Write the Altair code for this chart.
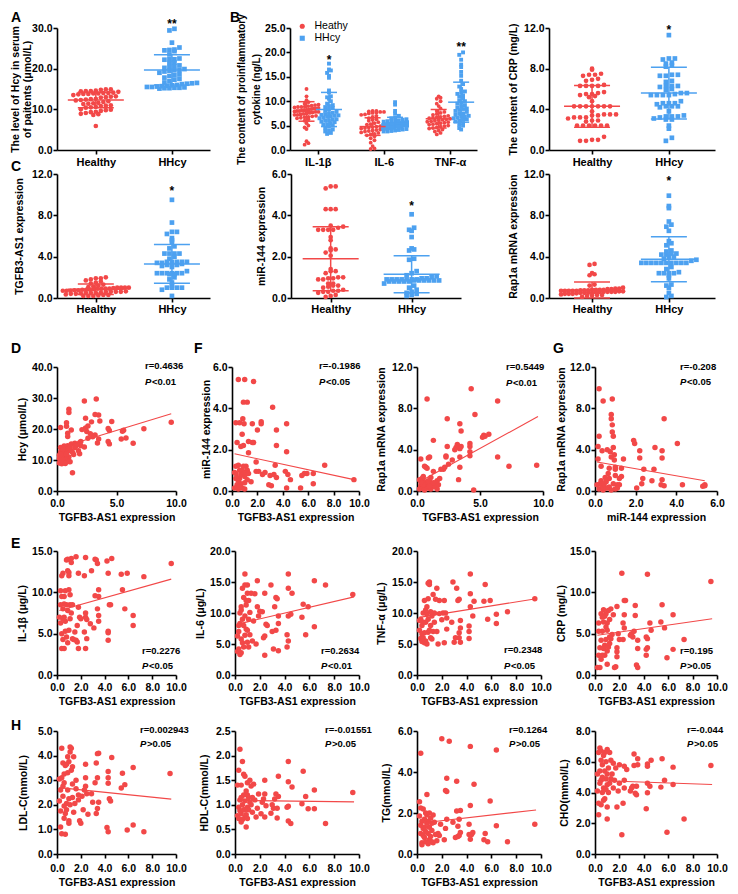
import altair as alt
import numpy as np
import pandas as pd

RED = "#F24848"
BLUE = "#4DA1F0"
FONT = "Liberation Sans"

# ---------------- group dot-plot data ----------------
A_HEALTHY = [14.9, 14.9, 14.8, 14.6, 14.5, 14.5, 14.4, 14.3, 14.1, 14.0, 14.0, 13.9, 13.9, 13.8, 13.8, 13.7,
             13.5, 13.2, 13.1, 13.0, 12.9, 12.6, 12.5, 12.4, 12.3, 12.2, 12.0, 11.8, 11.6, 11.5, 11.4, 11.3,
             11.0, 10.9, 10.8, 10.6, 10.5, 10.4, 10.0, 9.9, 9.8, 9.6, 9.4, 9.3, 9.1, 8.9, 8.8, 8.6, 5.9]
A_HHCY = [29.8, 29.4, 26.4, 25.2, 24.7, 24.6, 24.5, 24.3, 23.5, 22.5, 22.3, 22.2, 22.3, 21.5, 21.4, 20.8,
          20.6, 20.4, 20.2, 19.9, 19.7, 19.6, 19.5, 19.3, 19.0, 18.6, 18.4, 18.2, 17.8, 17.5, 17.3, 16.9,
          16.6, 16.5, 16.4, 16.3, 16.2, 16.0, 15.9, 15.8, 15.7, 15.6, 15.5, 15.5, 15.4, 15.3, 15.3, 15.2, 15.2, 15.1]
A_MEAN = [12.3, 19.7]
A_SD = [1.9, 3.7]

B_CATS = ["IL-1β", "IL-6", "TNF-α"]
B_IL1B_HEALTHY = [12.5, 11.0, 10.2, 9.8, 9.5, 9.3, 9.1, 9.0, 8.9, 8.8, 8.7, 8.6, 8.5, 8.4, 8.3, 8.2, 8.1, 8.0,
                  8.0, 7.9, 7.8, 7.7, 7.6, 7.5, 7.4, 7.3, 7.2, 7.0, 6.9, 6.8, 6.6, 6.5, 6.3, 6.0, 5.5, 5.0,
                  4.6, 4.3, 1.8, 1.4, 1.1, 8.5, 8.2, 7.8, 9.2, 8.8, 7.2, 6.7]
B_IL1B_HHCY = [17.7, 16.5, 16.3, 15.8, 15.2, 14.8, 12.2, 11.8, 11.0, 10.5, 10.0, 9.5, 9.0, 8.6, 8.0, 7.8,
               7.5, 7.2, 7.0, 6.8, 6.5, 6.3, 6.0, 5.8, 5.5, 5.2, 5.0, 4.8, 4.5, 4.2, 3.8, 3.5, 7.6, 7.1,
               6.6, 6.2, 5.7, 9.2, 8.3, 10.8, 3.3, 4.0, 5.3, 6.1, 6.9, 7.3, 8.8]
B_IL6_HEALTHY = [8.0, 8.0, 7.9, 7.8, 7.8, 7.6, 7.5, 7.3, 7.0, 6.8, 6.5, 6.2, 6.0, 5.7, 5.5, 5.3, 5.0, 4.9,
                 4.8, 4.7, 4.5, 4.4, 4.3, 4.2, 4.0, 3.9, 3.8, 3.6, 3.5, 3.3, 3.0, 2.8, 2.4, 2.0, 1.5, 0.8,
                 0.3, 0.2, 7.7, 7.2, 6.3, 5.2, 4.6, 4.1, 3.2]
B_IL6_HHCY = [9.8, 9.3, 8.0, 7.5, 7.0, 6.7, 6.5, 6.3, 6.2, 6.0, 5.9, 5.8, 5.7, 5.6, 5.5, 5.5, 5.4, 5.4, 5.3,
              5.3, 5.2, 5.2, 5.1, 5.0, 5.0, 4.9, 4.8, 4.7, 4.6, 4.5, 4.4, 4.3, 4.2, 4.1, 4.0, 3.9, 3.8, 3.8,
              5.6, 5.9, 6.1, 4.8, 5.1, 4.4]
B_TNF_HEALTHY = [11.0, 10.7, 10.5, 10.0, 9.5, 9.0, 8.5, 8.0, 7.6, 7.4, 7.2, 7.0, 6.9, 6.8, 6.7, 6.5, 6.4,
                 6.3, 6.2, 6.0, 5.9, 5.8, 5.7, 5.5, 5.4, 5.2, 5.0, 4.9, 4.8, 4.6, 4.5, 4.2, 4.0, 3.8, 3.5,
                 3.2, 6.1, 6.6, 5.6, 7.8, 5.3, 4.4]
B_TNF_HHCY = [20.0, 19.5, 18.5, 17.5, 17.0, 16.0, 15.2, 14.2, 13.5, 12.5, 12.0, 11.5, 11.2, 11.0, 10.5, 10.2,
              10.0, 9.5, 9.2, 9.0, 8.7, 8.5, 8.2, 8.0, 7.8, 7.5, 7.2, 7.0, 6.8, 6.6, 6.5, 6.3, 6.2, 6.0,
              5.8, 5.5, 5.2, 5.0, 4.5, 4.2, 7.4, 6.9, 8.4, 9.7, 11.8, 13.0]
B_MEAN_HEALTHY = [7.9, 4.8, 6.4]
B_SD_HEALTHY = [2.0, 1.8, 1.9]
B_MEAN_HHCY = [8.3, 5.5, 9.8]
B_SD_HHCY = [3.5, 1.2, 4.1]

CRP_HEALTHY = [8.0, 7.9, 7.5, 7.4, 7.4, 7.3, 7.0, 6.9, 6.8, 6.4, 6.3, 6.3, 6.3, 6.3, 5.7, 5.6, 5.5, 5.5, 5.4,
               5.3, 5.2, 4.8, 4.3, 4.3, 4.3, 4.3, 4.3, 4.3, 4.3, 3.8, 3.5, 3.5, 3.5, 3.4, 3.4, 3.2, 3.2, 3.2,
               3.1, 2.9, 2.9, 2.8, 2.4, 2.4, 2.4, 2.4, 2.4, 2.4, 1.3, 1.0, 1.0, 0.9, 0.9]
CRP_HHCY = [11.3, 9.0, 9.0, 8.9, 8.6, 8.5, 8.3, 8.2, 7.4, 7.4, 7.3, 7.3, 6.8, 6.7, 6.3, 6.3, 6.3, 6.2, 6.0,
            5.9, 5.6, 5.6, 5.5, 5.4, 5.4, 5.4, 5.4, 4.8, 4.6, 4.6, 4.6, 4.5, 4.3, 4.3, 4.3, 4.2, 3.8, 3.4,
            3.3, 3.3, 3.3, 3.2, 3.1, 3.0, 3.0, 2.4, 2.1, 1.2, 0.9]
CRP_MEAN = [4.3, 5.6]
CRP_SD = [2.05, 2.55]

TGF_HEALTHY = [2.0, 1.9, 1.9, 1.8, 1.7, 1.6, 1.5, 1.4, 1.3, 1.2, 1.1, 1.0, 1.0, 1.0, 1.0, 0.95, 0.9, 0.9,
               0.9, 0.85, 0.8, 0.8, 0.8, 0.75, 0.7, 0.7, 0.7, 0.65, 0.6, 0.6, 0.6, 0.55, 0.5, 0.5, 0.5, 0.45,
               0.4, 0.4, 0.35, 0.3, 0.3, 0.25, 0.2, 0.2, 0.2, 1.05, 0.9, 0.75, 0.6]
TGF_HHCY = [9.5, 7.3, 6.4, 6.4, 6.2, 5.8, 5.6, 5.4, 5.0, 4.8, 4.3, 4.3, 4.3, 4.3, 4.0, 3.8, 3.5, 3.5, 3.5,
            3.5, 3.5, 3.4, 3.4, 3.3, 3.2, 3.2, 3.2, 3.1, 3.0, 2.6, 2.4, 2.4, 2.4, 2.4, 2.4, 2.4, 2.3, 2.3,
            2.0, 1.8, 1.5, 1.2, 1.0, 1.0, 1.0, 1.0, 0.8, 0.2]
TGF_MEAN = [0.85, 3.3]
TGF_SD = [0.5, 1.87]

MIR_HEALTHY = [5.4, 5.4, 5.3, 4.3, 4.3, 4.3, 3.5, 3.45, 3.4, 3.3, 3.3, 3.3, 3.3, 2.95, 2.8, 2.4, 2.35, 2.3,
               2.2, 2.05, 1.4, 1.3, 1.3, 1.2, 1.0, 1.0, 0.95, 0.95, 0.9, 0.9, 0.7, 0.7, 0.6, 0.6, 0.55, 0.5,
               0.4, 0.35, 0.35, 0.3, 0.3, 0.25, 0.15, 0.1, 0.05]
MIR_HHCY = [4.05, 3.4, 3.3, 3.25, 2.95, 2.4, 2.35, 2.3, 1.9, 1.85, 1.3, 1.2, 1.1, 1.0, 0.95, 0.9, 0.9, 0.9,
            0.9, 0.9, 0.9, 0.9, 0.85, 0.85, 0.85, 0.85, 0.85, 0.85, 0.8, 0.8, 0.8, 0.8, 0.8, 0.7, 0.6, 0.5,
            0.4, 0.3, 0.25, 0.2, 0.15, 0.1, 0.95, 1.05]
MIR_MEAN = [1.9, 1.15]
MIR_SD = [1.55, 0.9]

RAP_HEALTHY = [3.3, 3.2, 2.4, 2.3, 2.2, 1.3, 1.2, 1.0, 0.9, 0.85, 0.8, 0.8, 0.8, 0.8, 0.75, 0.75, 0.7, 0.7,
               0.7, 0.7, 0.7, 0.65, 0.65, 0.6, 0.6, 0.6, 0.6, 0.6, 0.55, 0.5, 0.5, 0.5, 0.5, 0.45, 0.4, 0.4,
               0.4, 0.35, 0.3, 0.3, 0.25, 0.2, 0.1, 0.85, 0.9, 0.75]
RAP_HHCY = [9.9, 8.9, 8.7, 7.4, 7.1, 6.9, 6.5, 5.5, 5.3, 5.1, 4.6, 4.5, 4.3, 4.2, 4.2, 4.0, 4.0, 3.8, 3.6,
            3.4, 3.4, 3.4, 3.4, 3.4, 3.4, 3.4, 3.4, 3.4, 3.4, 3.0, 2.8, 2.5, 2.4, 2.4, 2.4, 2.4, 2.2, 1.9,
            1.3, 1.2, 1.0, 0.5, 0.2, 0.1, 4.3, 3.7]
RAP_MEAN = [0.75, 3.75]
RAP_SD = [0.8, 2.18]

# ---------------- correlation scatter data ----------------
D_PTS = [(9.6, 22.2), (7.3, 20.1), (6.4, 15.4), (5.8, 17.1), (5.6, 19.6), (5.5, 19.3), (5.4, 16.8), (4.6, 22.4),
         (4.4, 19.5), (4.3, 20.2), (4.3, 16.0), (4.4, 15.2), (3.5, 24.5), (3.6, 22.6), (3.3, 29.7), (3.2, 24.7),
         (3.4, 15.5), (3.5, 16.8), (3.2, 18.1), (3.0, 17.5), (2.9, 22.3), (2.6, 21.0), (2.4, 23.5), (2.3, 29.0),
         (2.4, 20.3), (2.5, 19.2), (2.1, 19.8), (2.0, 14.6), (1.9, 15.6), (1.8, 13.0), (1.9, 12.0), (1.6, 14.6),
         (1.5, 15.4), (1.2, 19.7), (1.3, 5.9), (1.2, 15.2), (1.4, 11.8), (1.1, 9.4), (1.0, 25.3), (1.0, 26.4),
         (0.8, 20.9), (0.8, 22.0), (0.9, 18.6), (0.9, 17.6), (0.3, 20.5), (1.1, 14.2), (1.2, 13.0), (1.3, 12.5),
         (1.0, 11.0), (0.9, 12.8), (0.8, 13.5), (0.7, 14.2), (0.6, 14.5), (0.5, 14.0), (0.4, 13.3), (0.3, 12.5),
         (0.2, 11.5), (0.2, 10.5), (0.3, 9.8), (0.2, 9.0), (0.4, 8.8), (0.5, 9.5), (0.6, 10.5), (0.7, 11.2),
         (0.8, 10.0), (0.4, 11.0), (0.5, 12.0), (0.6, 12.6), (0.7, 13.0), (0.3, 14.0), (0.9, 14.6), (1.0, 13.8),
         (0.4, 10.2), (0.6, 9.2), (0.5, 13.5), (0.8, 12.0), (1.0, 9.5), (0.7, 8.9), (0.3, 11.8), (1.5, 14.0),
         (1.7, 15.0), (2.0, 16.0), (2.3, 14.2), (2.6, 17.0), (2.8, 18.5)]
D_FIT = [(0.1, 13.8), (9.6, 24.9)]

F1_PTS = [(9.6, 0.55), (7.3, 1.25), (6.4, 0.85), (6.4, 0.35), (5.9, 0.85), (5.7, 0.85), (5.5, 0.75), (5.4, 0.15),
          (4.6, 0.55), (4.4, 0.8), (4.3, 3.25), (4.3, 1.9), (4.2, 0.95), (4.3, 0.15), (3.5, 2.95), (3.5, 2.2),
          (3.4, 1.25), (3.3, 0.8), (3.5, 0.65), (3.2, 4.05), (3.1, 0.25), (3.0, 0.75), (2.9, 0.3), (2.6, 0.9),
          (2.4, 0.8), (2.3, 3.35), (2.3, 3.25), (2.0, 2.95), (2.1, 0.95), (1.9, 1.4), (1.9, 0.95), (1.7, 5.3),
          (1.6, 3.25), (1.7, 2.35), (1.6, 2.35), (1.5, 0.45), (1.2, 4.3), (1.3, 2.4), (1.3, 1.85), (1.2, 1.0),
          (1.0, 5.4), (0.9, 4.3), (0.95, 3.25), (0.85, 3.5), (0.8, 2.75), (0.9, 2.2), (0.7, 2.15), (0.6, 3.3),
          (0.5, 5.4), (0.3, 3.3), (0.4, 2.35), (0.5, 1.25), (0.3, 1.2), (0.2, 0.9), (0.3, 0.6), (0.4, 0.3),
          (0.2, 0.15), (0.5, 0.1), (0.6, 0.6), (0.7, 0.8), (0.8, 1.0), (0.9, 0.9), (1.0, 0.7), (1.1, 0.85),
          (1.2, 0.55), (0.7, 0.35), (0.8, 0.15), (1.0, 0.1), (0.4, 0.65), (0.6, 1.0), (1.1, 1.2), (0.9, 1.2),
          (0.3, 0.85), (0.5, 0.5), (1.3, 0.85), (0.6, 0.2), (1.0, 0.4)]
F1_FIT = [(0.2, 1.8), (9.6, 0.55)]

F2_PTS = [(9.5, 2.5), (7.3, 2.4), (6.4, 8.7), (6.4, 3.3), (5.7, 5.5), (5.4, 5.3), (5.3, 5.4), (5.2, 5.2),
          (4.6, 7.4), (4.5, 0.1), (4.3, 9.9), (4.2, 4.6), (4.2, 4.3), (4.2, 3.8), (4.2, 3.4), (3.5, 5.8),
          (3.4, 6.5), (3.5, 4.3), (3.4, 4.1), (3.4, 3.3), (3.4, 2.3), (3.2, 4.5), (3.1, 4.2), (3.3, 1.1),
          (3.0, 4.0), (2.8, 3.0), (2.5, 2.6), (2.4, 7.0), (2.4, 4.3), (2.3, 3.3), (2.3, 3.4), (2.2, 2.3),
          (2.1, 2.1), (1.9, 2.1), (1.8, 1.2), (1.6, 1.0), (1.5, 0.8), (1.3, 4.9), (1.3, 1.9), (1.1, 1.3),
          (1.0, 3.3), (0.8, 8.9), (0.9, 3.2), (0.7, 2.3), (0.8, 2.2), (0.6, 2.4), (0.3, 3.1), (0.5, 1.4),
          (0.4, 1.2), (0.2, 1.1), (0.3, 0.5), (0.2, 0.2), (0.5, 0.3), (0.6, 0.9), (0.7, 0.5), (0.8, 0.7),
          (0.9, 0.3), (1.0, 0.9), (1.1, 0.2), (1.2, 0.6), (1.4, 0.4), (1.6, 0.2), (0.4, 0.8), (0.6, 0.1),
          (0.9, 1.0), (1.3, 0.8), (0.5, 0.6), (1.7, 0.6), (1.0, 0.5), (0.3, 0.9)]
F2_FIT = [(0.2, 0.9), (9.6, 7.2)]

G_PTS = [(5.4, 0.5), (5.3, 0.45), (5.4, 0.6), (4.3, 0.6), (4.05, 4.6), (3.4, 7.0), (3.3, 3.9), (3.3, 3.2),
         (3.3, 1.1), (3.25, 0.6), (3.4, 0.5), (2.95, 4.2), (2.9, 2.1), (2.8, 1.0), (2.4, 2.1), (2.35, 1.2),
         (2.3, 0.7), (2.2, 3.9), (2.2, 3.2), (2.05, 0.3), (1.95, 4.6), (1.9, 4.9), (1.4, 3.1), (1.3, 2.2),
         (1.3, 1.4), (1.2, 0.6), (1.0, 2.1), (1.0, 2.3), (0.95, 3.0), (0.95, 3.5), (0.9, 4.2), (0.9, 5.3),
         (0.85, 5.7), (0.85, 6.4), (0.8, 7.0), (0.8, 7.4), (0.85, 8.9), (0.8, 3.3), (0.75, 3.8), (0.7, 2.2),
         (0.7, 1.2), (0.7, 0.4), (0.6, 4.0), (0.55, 0.9), (0.5, 0.3), (0.4, 8.7), (0.35, 3.9), (0.3, 2.4),
         (0.3, 1.0), (0.25, 0.7), (0.2, 9.9), (0.2, 5.3), (0.15, 3.1), (0.15, 4.3), (0.1, 0.6), (0.2, 0.2),
         (0.35, 0.5), (0.45, 0.7), (0.6, 0.3), (0.65, 1.7), (0.9, 0.7), (1.0, 0.2), (1.1, 0.6), (1.2, 1.2),
         (1.0, 1.5), (0.5, 1.3), (1.1, 0.3), (0.8, 0.1), (0.4, 0.1)]
G_FIT = [(0.1, 2.8), (5.4, 1.0)]

IL1B_PTS = [(9.6, 13.5), (7.3, 11.9), (6.4, 7.2), (6.4, 6.0), (5.9, 12.3), (5.7, 8.0), (5.5, 10.3), (5.4, 12.2),
            (4.6, 14.1), (4.4, 8.5), (4.3, 12.3), (4.5, 8.5), (4.2, 13.8), (4.3, 5.3), (4.3, 5.1), (4.3, 4.2),
            (3.5, 10.3), (3.5, 9.5), (3.4, 8.0), (3.5, 7.2), (3.5, 6.5), (3.4, 13.5), (3.3, 13.9), (3.2, 14.0),
            (3.2, 9.6), (3.1, 5.7), (2.9, 12.6), (2.8, 6.2), (2.4, 14.2), (2.4, 7.5), (2.4, 7.0), (2.5, 6.7),
            (2.3, 12.0), (2.5, 4.4), (2.4, 3.2), (2.3, 5.2), (2.0, 6.8), (1.9, 7.0), (1.8, 8.2), (1.8, 12.3),
            (1.8, 3.2), (1.7, 4.0), (1.7, 6.0), (1.6, 14.3), (1.5, 5.2), (1.3, 4.4), (1.2, 13.6), (1.2, 14.1),
            (1.1, 8.5), (1.1, 9.7), (1.0, 10.3), (1.0, 12.4), (1.0, 12.0), (0.9, 14.0), (0.8, 13.9), (0.9, 12.6),
            (0.8, 8.5), (0.7, 10.2), (0.6, 9.5), (0.6, 8.6), (0.5, 8.0), (0.5, 12.3), (0.4, 12.0), (0.4, 9.5),
            (0.3, 8.5), (0.2, 7.0), (0.3, 6.3), (0.4, 5.0), (0.5, 4.3), (0.4, 3.2), (0.6, 3.2), (0.7, 5.3),
            (0.8, 4.6), (0.9, 3.9), (1.0, 5.4), (1.1, 6.8), (1.2, 7.5), (1.3, 8.5), (0.7, 6.5), (0.6, 7.0),
            (0.9, 7.8), (0.3, 10.2), (1.4, 4.3), (1.6, 4.2), (0.5, 6.8)]
IL1B_FIT = [(0.2, 7.8), (9.6, 11.6)]

IL6_PTS = [(9.5, 13.0), (7.3, 14.5), (6.4, 15.2), (6.4, 7.8), (5.9, 11.0), (5.7, 6.5), (5.5, 11.4), (5.4, 9.3),
           (4.6, 13.2), (4.5, 9.8), (4.3, 16.3), (4.3, 14.0), (4.3, 9.5), (4.2, 6.5), (4.3, 5.5), (4.2, 4.5),
           (3.5, 9.5), (3.5, 8.3), (3.4, 12.3), (3.3, 7.2), (3.5, 3.9), (3.3, 12.5), (3.2, 11.0), (3.1, 4.2),
           (3.0, 7.0), (2.9, 14.5), (2.6, 8.0), (2.4, 13.2), (2.5, 8.2), (2.4, 6.3), (2.4, 3.2), (2.3, 6.0),
           (2.2, 10.2), (2.0, 10.3), (1.9, 9.5), (1.8, 15.2), (1.8, 11.0), (1.7, 5.0), (1.6, 13.1), (1.5, 8.7),
           (1.4, 5.5), (1.3, 13.2), (1.2, 10.1), (1.2, 6.5), (1.1, 9.0), (1.0, 14.5), (1.0, 13.2), (0.9, 12.0),
           (0.8, 16.3), (0.8, 14.5), (0.9, 11.3), (0.8, 9.5), (0.7, 8.0), (0.6, 14.0), (0.5, 10.5), (0.5, 11.0),
           (0.4, 8.3), (0.3, 7.0), (0.2, 6.3), (0.3, 4.2), (0.2, 3.8), (0.4, 3.3), (0.5, 3.6), (0.6, 5.2),
           (0.7, 4.5), (0.8, 6.4), (0.9, 7.4), (1.0, 5.3), (1.1, 4.5), (1.0, 7.2), (0.6, 9.0), (0.4, 10.0),
           (0.7, 12.5), (1.1, 12.0), (0.5, 5.8), (0.3, 8.0)]
IL6_FIT = [(0.2, 8.2), (9.6, 12.6)]

TNF_PTS = [(9.5, 12.3), (7.3, 10.2), (6.4, 9.8), (6.4, 8.3), (5.9, 12.0), (5.7, 9.0), (5.5, 14.6), (5.4, 11.9),
           (4.6, 11.9), (4.5, 9.5), (4.3, 16.3), (4.3, 13.1), (4.3, 11.0), (4.2, 7.9), (4.2, 7.0), (4.2, 5.9),
           (3.5, 8.8), (3.5, 7.6), (3.4, 6.8), (3.4, 6.0), (3.5, 5.3), (3.4, 12.2), (3.3, 12.0), (3.2, 14.0),
           (3.1, 6.0), (3.0, 5.3), (2.9, 15.0), (2.8, 8.5), (2.4, 7.4), (2.4, 9.2), (2.3, 10.0), (2.2, 12.0),
           (2.2, 5.2), (2.1, 10.0), (2.0, 8.9), (1.8, 12.0), (1.8, 9.9), (1.7, 5.0), (1.6, 14.0), (1.5, 12.2),
           (1.4, 10.0), (1.3, 13.0), (1.2, 9.5), (1.1, 8.0), (1.0, 14.6), (1.0, 15.0), (0.9, 14.8), (0.9, 12.3),
           (0.8, 11.0), (0.8, 9.8), (0.7, 8.5), (0.6, 12.0), (0.5, 10.0), (0.4, 8.0), (0.3, 9.0), (0.2, 7.2),
           (0.2, 8.8), (0.3, 5.9), (0.4, 5.4), (0.5, 6.0), (0.6, 5.2), (0.7, 5.5), (0.8, 5.0), (0.9, 6.9),
           (1.0, 7.2), (1.1, 6.0), (1.2, 5.8), (1.3, 7.0), (0.7, 10.5), (0.5, 8.5), (0.9, 9.0), (1.1, 10.2),
           (0.6, 6.8), (1.4, 8.5), (1.6, 7.0), (0.4, 6.6)]
TNF_FIT = [(0.2, 9.3), (9.6, 12.3)]

CRPE_PTS = [(9.5, 11.3), (7.3, 4.3), (6.4, 7.3), (6.4, 3.1), (5.9, 2.1), (5.7, 5.7), (5.5, 8.5), (5.4, 6.4),
            (4.6, 5.4), (4.5, 6.3), (4.3, 12.2), (4.3, 4.4), (4.3, 3.3), (4.2, 3.1), (4.2, 2.4), (4.2, 4.6),
            (3.5, 4.2), (3.5, 3.2), (3.4, 1.2), (3.5, 0.9), (3.3, 7.2), (3.3, 8.4), (3.2, 5.3), (3.1, 4.6),
            (3.0, 5.0), (2.9, 4.8), (2.5, 9.0), (2.4, 9.0), (2.4, 7.3), (2.4, 5.7), (2.3, 6.3), (2.3, 4.3),
            (2.2, 12.3), (2.0, 4.3), (1.9, 5.0), (1.8, 8.3), (1.8, 3.3), (1.8, 2.8), (1.8, 2.2), (1.7, 1.0),
            (1.6, 0.9), (1.5, 7.3), (1.4, 4.9), (1.3, 8.0), (1.2, 6.7), (1.2, 4.6), (1.1, 7.8), (1.0, 6.3),
            (1.0, 5.4), (1.0, 1.3), (0.9, 7.4), (0.9, 4.3), (0.8, 3.6), (0.8, 2.4), (0.7, 7.9), (0.7, 6.4),
            (0.6, 5.3), (0.5, 7.4), (0.5, 4.2), (0.4, 3.3), (0.3, 6.3), (0.3, 5.3), (0.3, 2.4), (0.2, 0.9),
            (0.4, 0.9), (0.6, 2.4), (0.7, 3.2), (0.9, 5.8), (1.1, 3.4), (1.3, 4.4), (0.6, 7.0), (0.8, 7.1),
            (1.0, 2.9), (0.5, 1.9), (1.2, 3.8)]
CRPE_FIT = [(0.2, 4.8), (9.6, 6.8)]

LDL_PTS = [(9.5, 3.27), (7.3, 0.9), (6.4, 3.52), (6.4, 1.18), (5.9, 0.98), (5.7, 2.82), (5.4, 2.68), (5.5, 3.28),
           (4.6, 3.92), (4.5, 2.15), (4.4, 2.25), (4.3, 3.35), (4.3, 3.1), (4.3, 2.88), (4.2, 1.08), (4.3, 0.9),
           (3.5, 4.1), (3.4, 4.08), (3.3, 3.7), (3.4, 3.1), (3.5, 2.1), (3.4, 1.85), (3.3, 1.65), (3.2, 2.9),
           (3.0, 2.1), (2.9, 2.45), (2.6, 1.62), (2.5, 2.45), (2.4, 3.65), (2.4, 3.1), (2.4, 2.75), (2.3, 2.6),
           (2.2, 1.8), (2.1, 2.35), (2.0, 1.25), (1.9, 1.35), (1.8, 2.2), (1.8, 2.4), (1.6, 3.0), (1.6, 2.65),
           (1.5, 2.05), (1.4, 3.95), (1.3, 3.55), (1.3, 2.85), (1.2, 4.3), (1.2, 3.4), (1.1, 4.35), (1.1, 4.15),
           (1.0, 3.75), (1.0, 2.25), (1.0, 1.25), (1.0, 1.35), (0.9, 3.95), (0.9, 3.3), (0.8, 3.65), (0.8, 2.05),
           (0.8, 1.8), (0.7, 3.6), (0.7, 0.8), (0.6, 2.9), (0.6, 1.95), (0.5, 3.7), (0.5, 2.75), (0.4, 4.3),
           (0.4, 3.1), (0.4, 0.82), (0.3, 2.6), (0.3, 1.75), (0.3, 1.1), (0.2, 3.05), (0.2, 2.15), (0.5, 2.35),
           (0.6, 1.45), (0.7, 1.65), (0.9, 2.6), (1.1, 2.0), (1.4, 1.7), (0.6, 3.25), (1.3, 2.3)]
LDL_FIT = [(0.2, 2.7), (9.6, 2.23)]

HDL_PTS = [(9.5, 1.25), (7.3, 0.62), (6.4, 1.3), (6.4, 0.92), (5.9, 0.92), (5.7, 1.17), (5.5, 1.68), (5.4, 1.02),
           (4.6, 1.36), (4.5, 0.62), (4.3, 1.88), (4.3, 1.47), (4.3, 0.97), (4.2, 0.95), (4.3, 0.67), (3.5, 1.58),
           (3.5, 1.17), (3.4, 0.93), (3.4, 0.73), (3.3, 1.22), (3.2, 1.12), (3.1, 0.93), (3.0, 1.0), (2.9, 0.83),
           (2.5, 0.98), (2.4, 1.5), (2.4, 1.22), (2.3, 1.12), (2.4, 0.75), (2.2, 1.05), (2.1, 0.82), (1.9, 1.22),
           (1.8, 0.93), (1.7, 0.75), (1.6, 1.1), (1.5, 1.42), (1.4, 0.85), (1.3, 1.38), (1.2, 1.05), (1.1, 1.15),
           (1.0, 1.45), (1.0, 1.2), (1.0, 0.95), (0.9, 0.55), (0.9, 1.28), (0.8, 1.58), (0.8, 1.08), (0.8, 0.75),
           (0.7, 1.62), (0.7, 1.2), (0.6, 1.88), (0.6, 1.0), (0.5, 1.4), (0.5, 0.82), (0.4, 2.13), (0.4, 1.1),
           (0.3, 1.7), (0.3, 0.95), (0.2, 1.4), (0.2, 0.78), (0.3, 0.72), (0.4, 0.88), (0.5, 1.15), (0.6, 0.7),
           (0.7, 0.9), (0.9, 0.8), (1.0, 0.72), (1.2, 1.5), (1.1, 0.9), (1.3, 1.0), (0.5, 0.65), (0.8, 0.9),
           (1.4, 1.15)]
HDL_FIT = [(0.2, 1.09), (9.6, 1.06)]

TG_PTS = [(9.5, 1.45), (7.3, 0.6), (6.4, 5.07), (6.4, 1.38), (5.9, 2.58), (5.7, 0.6), (5.5, 1.0), (5.4, 0.7),
          (4.6, 3.4), (4.5, 1.05), (4.4, 0.95), (4.3, 5.25), (4.3, 2.37), (4.2, 1.45), (4.2, 0.95), (4.3, 0.72),
          (3.5, 2.12), (3.4, 1.7), (3.3, 1.35), (3.5, 1.05), (3.4, 0.9), (3.3, 0.85), (3.2, 3.55), (3.2, 2.1),
          (3.1, 0.8), (2.9, 1.55), (2.6, 5.5), (2.4, 3.7), (2.4, 3.05), (2.3, 3.1), (2.4, 1.7), (2.3, 1.25),
          (2.2, 0.7), (2.0, 5.62), (1.9, 1.45), (1.8, 0.9), (1.7, 1.0), (1.6, 0.65), (1.4, 1.55), (1.3, 1.9),
          (1.2, 1.15), (1.2, 0.6), (1.1, 1.75), (1.0, 2.0), (1.0, 1.3), (1.0, 0.7), (0.9, 1.0), (0.8, 2.9),
          (0.8, 1.9), (0.8, 1.5), (0.7, 1.1), (0.6, 1.7), (0.6, 0.8), (0.5, 2.2), (0.5, 1.25), (0.4, 1.6),
          (0.4, 0.55), (0.3, 4.92), (0.3, 2.25), (0.3, 1.0), (0.2, 2.55), (0.2, 1.85), (0.4, 0.45), (0.5, 0.9),
          (0.6, 1.3), (0.7, 0.6), (0.9, 1.6), (1.1, 0.85), (1.3, 0.55), (1.5, 0.95), (0.7, 2.0), (0.9, 0.5),
          (1.2, 1.5), (0.3, 1.4)]
TG_FIT = [(0.2, 1.5), (9.6, 2.15)]

CHO_PTS = [(9.5, 5.75), (7.3, 2.28), (6.4, 5.65), (6.4, 4.52), (5.9, 1.42), (5.7, 4.8), (5.5, 6.2), (5.4, 4.35),
           (4.6, 6.1), (4.5, 4.4), (4.3, 5.85), (4.3, 5.7), (4.3, 4.6), (4.3, 3.98), (4.2, 2.95), (3.5, 6.2),
           (3.5, 5.8), (3.4, 4.4), (3.4, 3.85), (3.3, 3.95), (3.2, 6.5), (3.2, 5.75), (3.1, 4.4), (3.0, 4.3),
           (2.9, 4.1), (2.6, 5.5), (2.4, 5.7), (2.4, 4.8), (2.4, 4.3), (2.3, 3.3), (2.2, 1.25), (2.0, 5.8),
           (2.0, 4.6), (1.9, 4.1), (1.8, 3.05), (1.7, 5.6), (1.6, 4.8), (1.5, 4.3), (1.4, 5.2), (1.3, 6.1),
           (1.3, 4.9), (1.2, 6.6), (1.1, 5.6), (1.1, 4.0), (1.0, 6.8), (1.0, 5.2), (1.0, 4.5), (1.0, 3.05),
           (1.0, 2.28), (0.9, 6.0), (0.9, 4.9), (0.8, 6.6), (0.8, 5.4), (0.8, 3.6), (0.7, 6.4), (0.7, 4.3),
           (0.7, 3.5), (0.6, 5.0), (0.6, 4.0), (0.5, 6.7), (0.5, 6.1), (0.5, 3.2), (0.4, 6.9), (0.4, 5.4),
           (0.4, 4.6), (0.3, 6.6), (0.3, 3.3), (0.3, 2.55), (0.2, 4.1), (0.2, 5.2), (0.6, 5.8), (0.9, 4.2),
           (1.2, 4.6), (0.5, 4.8), (1.5, 5.9)]
CHO_FIT = [(0.2, 4.78), (9.6, 4.52)]


# ---------------- helpers ----------------
def swarm(values, center, ppx, ppy, step_px, bin_px, max_px):
    """Deterministic dot-plot arrangement: points of one value row are spread sideways."""
    v = np.asarray(values, dtype=float)
    rows = np.floor(v * ppy / bin_px)
    xs = np.zeros(len(v))
    for r in np.unique(rows):
        idx = np.where(rows == r)[0]
        idx = idx[np.argsort(v[idx], kind="stable")]
        n = len(idx)
        step = min(step_px, max_px / max(n - 1, 1))
        for j, i in enumerate(idx):
            xs[i] = center + (j - (n - 1) / 2.0) * step / ppx
    return xs


def letter_layer(ch, x, y):
    return alt.Chart(pd.DataFrame({"t": [ch]})).mark_text(
        font=FONT, fontSize=14, fontWeight="bold", align="left", baseline="middle", color="black"
    ).encode(text="t:N", x=alt.value(x), y=alt.value(y))


def frame_layer(x, y1, y2):
    # invisible guide that fixes the extent of a row in the page layout
    return alt.Chart(pd.DataFrame({"v": [0]})).mark_rule(opacity=0, strokeOpacity=0).encode(
        x=alt.value(x), y=alt.value(y1), y2=alt.value(y2))


def dot_panel(cats, groups, xdom, width, height, ymax, yticks, ytitle, title_x, names, stars,
              letter=None, legend=None, mean_px=28, cap_px=18, step_px=5.0, bin_px=4.5, max_px=60,
              size=22, label_pad=2, line_h=12, frame=None, title_fs=10.5):
    ppx = width / (xdom[1] - xdom[0])
    ppy = height / ymax
    pts, ms = [], []
    for vals, c, name, mean, sd in groups:
        pts.append(pd.DataFrame({"x": swarm(vals, c, ppx, ppy, step_px, bin_px, max_px), "y": vals, "g": name}))
        ms.append({"xc": c, "xm1": c - mean_px / ppx, "xm2": c + mean_px / ppx,
                   "xc1": c - cap_px / ppx, "xc2": c + cap_px / ppx,
                   "m": mean, "lo": max(mean - sd, 0.0), "hi": mean + sd, "g": name})
    pdf = pd.concat(pts, ignore_index=True)
    mdf = pd.DataFrame(ms)
    xsc = alt.Scale(domain=list(xdom), nice=False, zero=False)
    ysc = alt.Scale(domain=[0, ymax], nice=False, zero=True)
    expr = "[" + ",".join("'" + c + "'" for c in cats) + "][datum.value]"
    xax = alt.Axis(values=list(range(len(cats))), labelExpr=expr, title=None, labelFontSize=11,
                   labelPadding=label_pad)
    yax = alt.Axis(values=yticks, format=".1f", title=ytitle, titleX=title_x, titleBaseline="bottom",
                   titleLineHeight=line_h, titleFontSize=title_fs)
    color = alt.Color("g:N", scale=alt.Scale(domain=names, range=[RED, BLUE]), legend=legend)
    shape = alt.Shape("g:N", scale=alt.Scale(domain=names, range=["circle", "square"]), legend=legend)

    def X(f):
        return alt.X(f, scale=xsc, axis=xax)

    def Y(f):
        return alt.Y(f, scale=ysc, axis=yax)

    points = alt.Chart(pdf).mark_point(filled=True, opacity=1, size=size, strokeWidth=0).encode(
        x=X("x:Q"), y=Y("y:Q"), color=color, shape=shape)
    mean_l = alt.Chart(mdf).mark_rule(strokeWidth=1.5).encode(x=X("xm1:Q"), x2="xm2:Q", y=Y("m:Q"), color=color)
    sd_l = alt.Chart(mdf).mark_rule(strokeWidth=1.5).encode(x=X("xc:Q"), y=Y("lo:Q"), y2="hi:Q", color=color)
    cap_hi = alt.Chart(mdf).mark_rule(strokeWidth=1.5).encode(x=X("xc1:Q"), x2="xc2:Q", y=Y("hi:Q"), color=color)
    cap_lo = alt.Chart(mdf).mark_rule(strokeWidth=1.5).encode(x=X("xc1:Q"), x2="xc2:Q", y=Y("lo:Q"), color=color)
    sdf = pd.DataFrame(stars, columns=["x", "y", "t"])
    star = alt.Chart(sdf).mark_text(font=FONT, fontSize=12, fontWeight="bold", color="black",
                                    baseline="middle").encode(x=X("x:Q"), y=Y("y:Q"), text="t:N")
    layers = [points, mean_l, sd_l, cap_hi, cap_lo, star]
    if letter:
        layers.append(letter_layer(*letter))
    if frame:
        layers.append(frame_layer(*frame))
    return alt.layer(*layers).properties(width=width, height=height)


def scatter_panel(pts, fit, width, height, xmax, xticks, ymax, yticks, ytitle, title_x, r_text, p_text,
                  ann, letter=None, xlabel_pad=3, xtitle_y=29, xtitle="TGFB3-AS1 expression", limit=0,
                  frame=None):
    df = pd.DataFrame(pts, columns=["x", "y"])
    fdf = pd.DataFrame(fit, columns=["x", "y"])
    xsc = alt.Scale(domain=[0, xmax], nice=False, zero=True)
    ysc = alt.Scale(domain=[0, ymax], nice=False, zero=True)
    xax = alt.Axis(values=xticks, format=".1f", title=xtitle, titleY=xtitle_y, titleBaseline="alphabetic",
                   labelPadding=xlabel_pad)
    yax = alt.Axis(values=yticks, format=".1f", title=ytitle, titleX=title_x, titleBaseline="bottom")
    X = alt.X("x:Q", scale=xsc, axis=xax)
    Y = alt.Y("y:Q", scale=ysc, axis=yax)
    pts_l = alt.Chart(df).mark_circle(size=30, color=RED, opacity=1).encode(x=X, y=Y)
    fit_l = alt.Chart(fdf).mark_line(color=RED, strokeWidth=1.1).encode(x=X, y=Y)
    ax, ry, py = ann
    kw = dict(font=FONT, fontSize=9.5, fontWeight="bold", align="left", baseline="middle", color="black")
    rkw = dict(kw)
    if limit:
        rkw.update(limit=limit, ellipsis=" ")
    r_l = alt.Chart(pd.DataFrame({"t": [r_text]})).mark_text(**rkw).encode(
        text="t:N", x=alt.value(ax), y=alt.value(ry))
    p1 = alt.Chart(pd.DataFrame({"t": ["P"]})).mark_text(fontStyle="italic", **kw).encode(
        text="t:N", x=alt.value(ax), y=alt.value(py))
    p2 = alt.Chart(pd.DataFrame({"t": [p_text]})).mark_text(**kw).encode(
        text="t:N", x=alt.value(ax + 7), y=alt.value(py))
    layers = [pts_l, fit_l, r_l, p1, p2]
    if letter:
        layers.append(letter_layer(*letter))
    if frame:
        layers.append(frame_layer(*frame))
    return alt.layer(*layers).properties(width=width, height=height)


def spacer(w):
    return alt.Chart(pd.DataFrame({"v": [0]})).mark_point(opacity=0).encode(
        x=alt.X("v:Q", axis=None), y=alt.Y("v:Q", axis=None)).properties(width=w, height=1)


def row(*items):
    return alt.hconcat(*items, spacing=0, bounds="flush").resolve_scale(color="independent", shape="independent")


HH = ["Healthy", "HHcy"]
FX = -49          # left guide of every row (relative to first y-axis)
ROW_SPACING = -60

# ---------------- row 1 ----------------
pA = dot_panel(HH, [(A_HEALTHY, 0, "Healthy", A_MEAN[0], A_SD[0]), (A_HHCY, 1, "HHcy", A_MEAN[1], A_SD[1])],
               (-0.51, 1.5), 153, 122, 30, [0, 10, 20, 30],
               ["The level of Hcy in serum", "of paitents (μmol/L)"], -37, HH, [(1, 31.0, "**")],
               letter=("A", -46, -10), max_px=56, frame=(FX, -20, 122 + 24))

b_legend = alt.Legend(title=None, orient="none", legendX=7, legendY=-7, labelFont=FONT, labelFontSize=10.5,
                      labelFontWeight="normal", labelColor="black", symbolSize=26, rowPadding=1, labelOffset=7,
                      padding=0, symbolStrokeWidth=0)
BN = ["Heathy", "HHcy"]
pB = dot_panel(B_CATS,
               [(B_IL1B_HEALTHY, -0.17, "Heathy", B_MEAN_HEALTHY[0], B_SD_HEALTHY[0]),
                (B_IL1B_HHCY, 0.17, "HHcy", B_MEAN_HHCY[0], B_SD_HHCY[0]),
                (B_IL6_HEALTHY, 0.83, "Heathy", B_MEAN_HEALTHY[1], B_SD_HEALTHY[1]),
                (B_IL6_HHCY, 1.17, "HHcy", B_MEAN_HHCY[1], B_SD_HHCY[1]),
                (B_TNF_HEALTHY, 1.83, "Heathy", B_MEAN_HEALTHY[2], B_SD_HEALTHY[2]),
                (B_TNF_HHCY, 2.17, "HHcy", B_MEAN_HHCY[2], B_SD_HHCY[2])],
               (-0.42, 2.41), 187, 122, 25, [0, 5, 10, 15, 20, 25],
               ["The content of proinflammatory", "cytokine (ng/L)"], -44, BN,
               [(0.17, 18.4, "*"), (2.17, 21.2, "**")], letter=("B", -60, -10), legend=b_legend,
               mean_px=13, cap_px=8, step_px=3.8, bin_px=3.5, max_px=24, size=15, line_h=15, title_fs=10)

pCRP = dot_panel(HH, [(CRP_HEALTHY, 0, "Healthy", CRP_MEAN[0], CRP_SD[0]),
                      (CRP_HHCY, 1, "HHcy", CRP_MEAN[1], CRP_SD[1])],
                 (-0.56, 1.6), 166, 122, 12, [0, 4, 8, 12], "The content of CRP (mg/L)", -31, HH,
                 [(1, 11.85, "*")], step_px=6.0, max_px=54)

# ---------------- row 2 ----------------
pC = dot_panel(HH, [(TGF_HEALTHY, 0, "Healthy", TGF_MEAN[0], TGF_SD[0]),
                    (TGF_HHCY, 1, "HHcy", TGF_MEAN[1], TGF_SD[1])],
               (-0.51, 1.5), 153, 124, 12, [0, 4, 8, 12], "TGFB3-AS1 expression", -33, HH,
               [(1, 10.35, "*")], letter=("C", -46, -7), label_pad=1, max_px=66, bin_px=3.5,
               frame=(FX, -40, 124 + 69))
pMIR = dot_panel(HH, [(MIR_HEALTHY, 0, "Healthy", MIR_MEAN[0], MIR_SD[0]),
                      (MIR_HHCY, 1, "HHcy", MIR_MEAN[1], MIR_SD[1])],
                 (-0.49, 1.61), 170, 124, 6, [0, 2, 4, 6], "miR-144 expression", -25, HH,
                 [(1, 4.43, "*")], label_pad=1, max_px=64)
pRAP = dot_panel(HH, [(RAP_HEALTHY, 0, "Healthy", RAP_MEAN[0], RAP_SD[0]),
                      (RAP_HHCY, 1, "HHcy", RAP_MEAN[1], RAP_SD[1])],
                 (-0.56, 1.6), 166, 124, 12, [0, 4, 8, 12], "Rap1a mRNA  expression", -31, HH,
                 [(1, 11.35, "*")], label_pad=1, max_px=62, bin_px=3.5)

# ---------------- row 3 ----------------
T10 = [0, 2, 4, 6, 8, 10]
pD = scatter_panel(D_PTS, D_FIT, 119, 124, 10, [0, 5, 10], 40, [0, 10, 20, 30, 40], "Hcy (μmol/L)", -30,
                   "r=0.4636", "<0.01", (88, -1, 15), letter=("D", -46, -18), frame=(FX, -40, 124 + 60))
pF1 = scatter_panel(F1_PTS, F1_FIT, 127, 124, 10, T10, 6, [0, 2, 4, 6], "miR-144 expression", -21,
                    "r=-0.1986", "<0.05", (87, -1, 15), letter=("F", -38, -18))
pF2 = scatter_panel(F2_PTS, F2_FIT, 126, 124, 10, [0, 5, 10], 12, [0, 4, 8, 12], "Rap1a mRNA expression",
                    -31, "r=0.5449", "<0.01", (89, 0, 16))
pG = scatter_panel(G_PTS, G_FIT, 122, 124, 6, [0, 2, 4, 6], 12, [0, 4, 8, 12], "Rap1a mRNA expression",
                   -29, "r=-0.208", "<0.05", (85, 0, 15), letter=("G", -42, -18), xtitle="miR-144 expression")

# ---------------- row 4 ----------------
pIL1B = scatter_panel(IL1B_PTS, IL1B_FIT, 119, 124, 10, T10, 15, [0, 5, 10, 15], "IL-1β (μg/L)", -30,
                      "r=0.2276", "<0.05", (85, 100, 115), letter=("E", -46, -7), frame=(FX, -40, 124 + 56))
pIL6 = scatter_panel(IL6_PTS, IL6_FIT, 124, 124, 10, T10, 20, [0, 5, 10, 15, 20], "IL-6 (μg/L)", -30,
                     "r=0.2634", "<0.01", (86, 100, 115))
pTNF = scatter_panel(TNF_PTS, TNF_FIT, 124, 124, 10, T10, 20, [0, 5, 10, 15, 20], "TNF-α (μg/L)", -31,
                     "r=0.2348", "<0.05", (87, 99, 115))
pCRPE = scatter_panel(CRPE_PTS, CRPE_FIT, 122, 124, 10, T10, 15, [0, 5, 10, 15], "CRP (mg/L)", -29,
                      "r=0.195", ">0.05", (85, 100, 115))

# ---------------- row 5 ----------------
pLDL = scatter_panel(LDL_PTS, LDL_FIT, 119, 123, 10, T10, 5, [0, 1, 2, 3, 4, 5], "LDL-C(mmol/L)", -29,
                     "r=0.002943", ">0.05", (83, -1, 13), letter=("H", -46, -5), xlabel_pad=5, xtitle_y=31,
                     frame=(FX, -40, 123 + 20))
pHDL = scatter_panel(HDL_PTS, HDL_FIT, 124, 123, 10, T10, 2.5, [0, 0.5, 1, 1.5, 2, 2.5], "HDL-C(mmol/L)", -26,
                     "r=-0.01551", ">0.05", (90, -1, 13), xlabel_pad=5, xtitle_y=31)
pTG = scatter_panel(TG_PTS, TG_FIT, 124, 123, 10, T10, 6, [0, 2, 4, 6], "TG(mmol/L)", -26,
                    "r=0.1264", ">0.05", (92, -1, 13), xlabel_pad=5, xtitle_y=31)
pCHO = scatter_panel(CHO_PTS, CHO_FIT, 122, 123, 10, T10, 8, [0, 2, 4, 6, 8], "CHO(mmol/L)", -26,
                     "r=-0.04401", ">0.05", (92, -1, 13), xlabel_pad=5, xtitle_y=31, limit=42)

rows = [
    row(pA, spacer(80), pB, spacer(72), pCRP),
    row(pC, spacer(81), pMIR, spacer(88), pRAP),
    row(pD, spacer(56), pF1, spacer(58), pF2, spacer(52), pG),
    row(pIL1B, spacer(59), pIL6, spacer(58), pTNF, spacer(54), pCRPE),
    row(pLDL, spacer(59), pHDL, spacer(58), pTG, spacer(54), pCHO),
]

chart = alt.vconcat(*rows, spacing=ROW_SPACING).resolve_scale(
    color="independent", shape="independent"
).properties(
    padding={"left": 0, "top": 0, "right": 0, "bottom": 0}
).configure_view(
    strokeWidth=0
).configure_axis(
    domainColor="black", domainWidth=1.6, tickColor="black", tickWidth=1.6, tickSize=4,
    labelFont=FONT, labelFontSize=10.5, labelFontWeight="bold", labelColor="black",
    titleFont=FONT, titleFontSize=10.5, titleFontWeight="bold", titleColor="black",
    grid=False, labelFlush=False, labelOverlap=False
).configure_axisY(
    labelPadding=1
)

chart.save("out.html", embed_options={"renderer": "svg", "actions": False})
